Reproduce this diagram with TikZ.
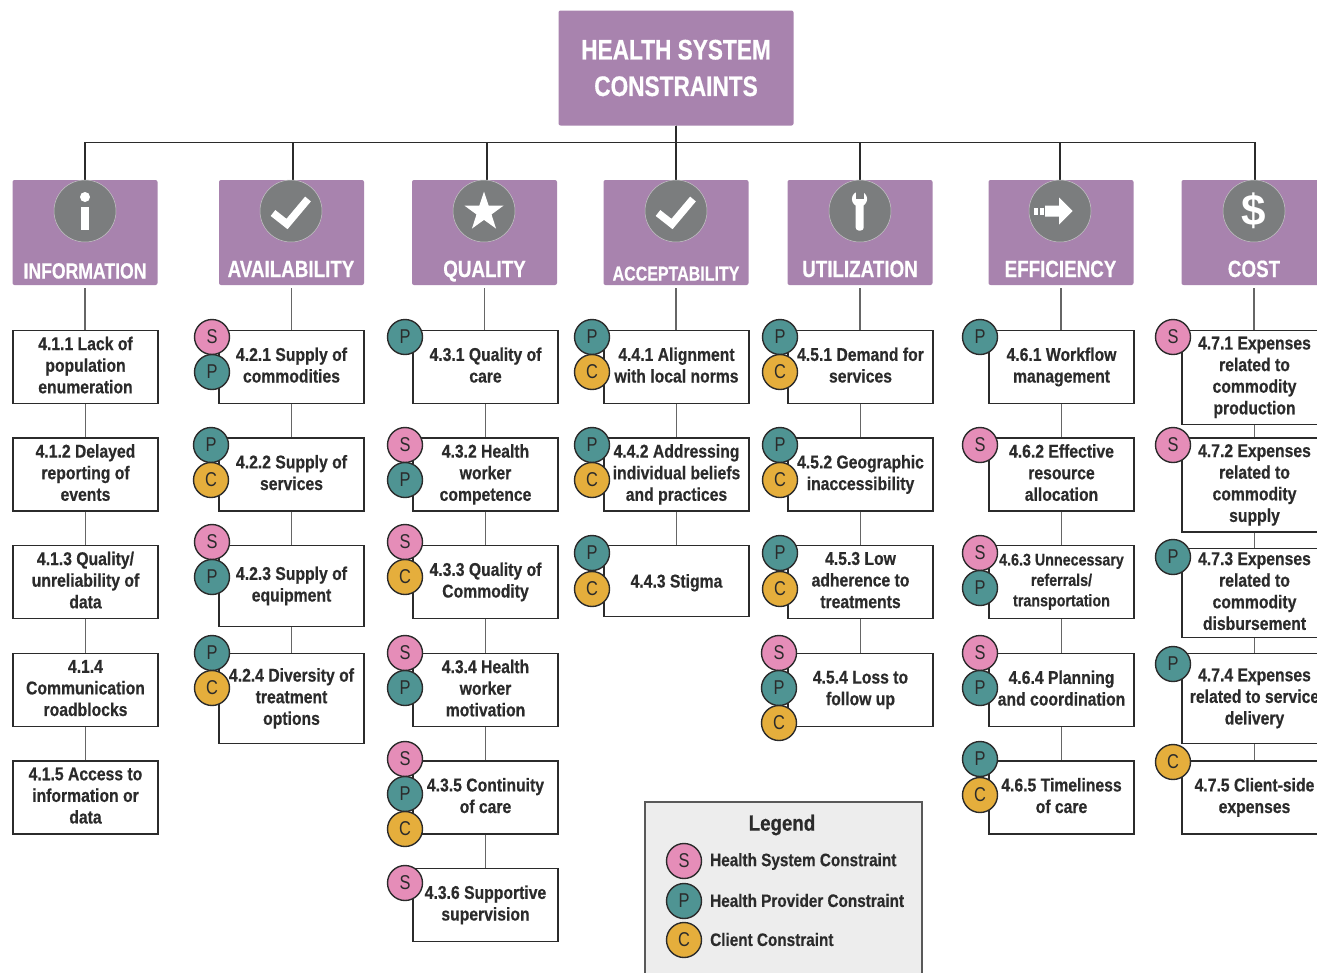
\documentclass[tikz,border=0pt]{standalone}
\usepackage{fontspec}
\usetikzlibrary{shapes.geometric}
\setmainfont{Liberation Sans}
\newfontfamily\headfont[FakeStretch=0.8, BoldFeatures={FakeBold=0.5}]{Liberation Sans}
\newfontfamily\itemfont[FakeStretch=0.85, BoldFeatures={FakeBold=0.5}]{Liberation Sans}
\newfontfamily\tagfont[FakeStretch=0.82]{Liberation Sans}

\definecolor{plum}{HTML}{A883AE}
\definecolor{slate}{HTML}{7B7D7E}
\definecolor{ink}{HTML}{2B2B2B}
\definecolor{tagpink}{HTML}{E58DB8}
\definecolor{tagteal}{HTML}{4F9493}
\definecolor{taggold}{HTML}{E5AE3C}

\newcommand{\itemtopstrut}{\rule{0pt}{17pt}}
\newcommand{\itemendstrut}{\rule[-4pt]{0pt}{4pt}}

\tikzset{
  topbox/.style={fill=plum, rounded corners=2pt, minimum width=235pt, minimum height=115pt,
    text=white, align=center, inner sep=0pt, font=\headfont\bfseries\fontsize{28.3}{36.5}\selectfont},
  headbox/.style={fill=plum, rounded corners=2pt, minimum width=145pt, minimum height=105pt, inner sep=0pt},
  headtext/.style={text=white, inner sep=0pt, text height=17pt, text depth=4pt,
    font=\headfont\bfseries\fontsize{23.5}{26}\selectfont},
  iconball/.style={circle, fill=slate, draw=white!55!slate, line width=0.5pt, minimum size=62pt, inner sep=0pt},
  itembox/.style={draw=ink, line width=1.4pt, fill=white, minimum width=145pt, minimum height=73pt,
    align=center, inner sep=0pt, text=ink, execute at begin node=\itemtopstrut, execute at end node=\itemendstrut,
    font=\itemfont\bfseries\fontsize{18.5}{21.6}\selectfont},
  tagball/.style={circle, draw=ink, line width=1.4pt, minimum size=35pt, inner sep=0pt, text=ink,
    font=\tagfont\fontsize{20}{22}\selectfont},
  tags/.style={tagball, fill=tagpink},
  tagp/.style={tagball, fill=tagteal},
  tagc/.style={tagball, fill=taggold},
  bus/.style={draw=ink, line width=1.4pt},
  link/.style={draw=black!60, line width=1.2pt},
  legendtext/.style={anchor=west, inner sep=0pt, text=ink, font=\itemfont\bfseries\fontsize{18}{21}\selectfont},
}

\begin{document}
\begin{tikzpicture}[x=1pt,y=-1pt]
  \useasboundingbox (0,0) rectangle (1317,972);

  % Title
  \node[topbox] (top) at (676,68) {HEALTH SYSTEM\\CONSTRAINTS};

  % Category headers
  \node[headbox] (hinfo) at (85,232.5) {};
  \node[headbox] (havail) at (291.5,232.5) {};
  \node[headbox] (hqual) at (484.5,232.5) {};
  \node[headbox] (hacc) at (676,232.5) {};
  \node[headbox] (hutil) at (860,232.5) {};
  \node[headbox] (heff) at (1061,232.5) {};
  \node[headbox] (hcost) at (1254,232.5) {};

  \node[headtext, font=\headfont\bfseries\fontsize{22}{26}\selectfont] (tinfo) at (85,272) {INFORMATION};
  \node[headtext] (tavail) at (291,270.5) {AVAILABILITY};
  \node[headtext] (tqual) at (484.5,270.5) {QUALITY};
  \node[headtext, font=\headfont\bfseries\fontsize{20}{26}\selectfont] (tacc) at (676,274) {ACCEPTABILITY};
  \node[headtext] (tutil) at (860,270.5) {UTILIZATION};
  \node[headtext] (teff) at (1060.5,270.5) {EFFICIENCY};
  \node[headtext] (tcost) at (1254,270.5) {COST};

  % Bus from the title down to the headers
  \foreach \h/\s in {hinfo/0, havail/1.5, hqual/2.5, hacc/0, hutil/0, heff/-1, hcost/1}
    \draw[bus] (top.south) -- ++(0,17) -| ([xshift=\s pt]\h.north);

  % Icons
  \node[iconball] (iinfo) at (85,211) {};
  \node[iconball] (iavail) at (291,211) {};
  \node[iconball] (iqual) at (484,211) {};
  \node[iconball] (iacc) at (676,211) {};
  \node[iconball] (iutil) at (860,211) {};
  \node[iconball] (ieff) at (1060,211) {};
  \node[iconball] (icost) at (1254,211) {};

  \fill[white] (iinfo.center) ++(0,-14) circle (5);
  \fill[white] (iinfo.center) ++(-4.3,-4) rectangle ++(8.6,23);
  \draw[white, line width=7.5pt] (iavail.center) ++(-18,2) -- ++(14,11) -- ++(21,-25);
  \node[star, star points=5, star point ratio=2.6, fill=white, inner sep=0pt, minimum size=41pt] (squal) at (484,212) {};
  \draw[white, line width=7.5pt] (iacc.center) ++(-18,2) -- ++(14,11) -- ++(21,-25);
  % wrench
  \fill[white] (iutil.center) ++(-0.5,-12) circle (7.6);
  \fill[slate] (iutil.center) ++(-4.5,-20) rectangle ++(8,8);
  \fill[white, rounded corners=3pt] (iutil.center) ++(-4.3,-10) rectangle ++(8,29.5);
  % arrow
  \fill[white] (ieff.center) ++(-26,-3.5) rectangle ++(4.2,7);
  \fill[white] (ieff.center) ++(-20,-3.5) rectangle ++(3.6,7);
  \fill[white] (ieff.center) ++(-15,-5.5) -- ++(14,0) -- ++(0,-8) -- ++(13.5,13.5)
    -- ++(-13.5,13.5) -- ++(0,-8) -- ++(-14,0) -- cycle;
  \node[text=white, inner sep=0pt, font=\bfseries\fontsize{44}{44}\selectfont] (dollar) at (1254,211) {\$};

  % Information
  \node[itembox] (i411) at (85.5,367) {4.1.1 Lack of\\population\\enumeration};
  \node[itembox] (i412) at (85.5,474.5) {4.1.2 Delayed\\reporting of\\events};
  \node[itembox] (i413) at (85.5,582) {4.1.3 Quality/\\unreliability of\\data};
  \node[itembox] (i414) at (85.5,690) {4.1.4\\Communication\\roadblocks};
  \node[itembox] (i415) at (85.5,797.5) {4.1.5 Access to\\information or\\data};

  % Availability
  \node[itembox] (i421) at (291.5,367) {4.2.1 Supply of\\commodities};
  \node[itembox] (i422) at (291.5,474.5) {4.2.2 Supply of\\services};
  \node[itembox, minimum height=81pt] (i423) at (291.5,586) {4.2.3 Supply of\\equipment};
  \node[itembox, minimum height=90pt] (i424) at (291.5,698.5) {4.2.4 Diversity of\\treatment\\options};

  % Quality
  \node[itembox] (i431) at (485.5,367) {4.3.1 Quality of\\care};
  \node[itembox] (i432) at (485.5,474.5) {4.3.2 Health\\worker\\competence};
  \node[itembox] (i433) at (485.5,582) {4.3.3 Quality of\\Commodity};
  \node[itembox] (i434) at (485.5,690) {4.3.4 Health\\worker\\motivation};
  \node[itembox] (i435) at (485.5,797.5) {4.3.5 Continuity\\of care};
  \node[itembox] (i436) at (485.5,905) {4.3.6 Supportive\\supervision};

  % Acceptability
  \node[itembox] (i441) at (676.5,367) {4.4.1 Alignment\\with local norms};
  \node[itembox] (i442) at (676.5,474.5) {4.4.2 Addressing\\individual beliefs\\and practices};
  \node[itembox, minimum height=71pt] (i443) at (676.5,581) {4.4.3 Stigma};

  % Utilization
  \node[itembox] (i451) at (860.5,367) {4.5.1 Demand for\\services};
  \node[itembox] (i452) at (860.5,474.5) {4.5.2 Geographic\\inaccessibility};
  \node[itembox] (i453) at (860.5,582) {4.5.3 Low\\adherence to\\treatments};
  \node[itembox] (i454) at (860.5,690) {4.5.4 Loss to\\follow up};

  % Efficiency
  \node[itembox] (i461) at (1061.5,367) {4.6.1 Workflow\\management};
  \node[itembox] (i462) at (1061.5,474.5) {4.6.2 Effective\\resource\\allocation};
  \node[itembox, font=\itemfont\bfseries\fontsize{16.8}{20.4}\selectfont] (i463) at (1061.5,582) {4.6.3 Unnecessary\\referrals/\\transportation};
  \node[itembox] (i464) at (1061.5,690) {4.6.4 Planning\\and coordination};
  \node[itembox] (i465) at (1061.5,797.5) {4.6.5 Timeliness\\of care};

  % Cost
  \node[itembox, minimum height=94pt] (i471) at (1254.5,377.5) {4.7.1 Expenses\\related to\\commodity\\production};
  \node[itembox, minimum height=94pt] (i472) at (1254.5,485) {4.7.2 Expenses\\related to\\commodity\\supply};
  \node[itembox, minimum height=89pt] (i473) at (1254.5,593) {4.7.3 Expenses\\related to\\commodity\\disbursement};
  \node[itembox, minimum height=90pt] (i474) at (1254.5,698.5) {4.7.4 Expenses\\related to service\\delivery};
  \node[itembox] (i475) at (1254.5,797.5) {4.7.5 Client-side\\expenses};

  % Links from the headers and along each column
  \foreach \a/\b in {hinfo/i411, havail/i421, hqual/i431, hacc/i441, hutil/i451, heff/i461, hcost/i471}
    \draw[link, shorten <=3pt] (\a.south) -- (\a.south |- \b.north);
  \foreach \a/\b in {i411/i412, i412/i413, i413/i414, i414/i415,
                     i421/i422, i422/i423, i423/i424,
                     i431/i432, i432/i433, i433/i434, i434/i435, i435/i436,
                     i441/i442, i442/i443,
                     i451/i452, i452/i453, i453/i454,
                     i461/i462, i462/i463, i463/i464, i464/i465,
                     i471/i472, i472/i473, i473/i474, i474/i475}
    \draw[link] (\a.south) -- (\b.north);

  % Constraint tags
  \foreach \n/\x/\y in {421/212/337, 423/212/542, 432/405/445, 433/405/542, 434/405/653, 435/405/759,
                        436/405/883, 454/779/653, 462/980/445, 463/980/553, 464/980/653,
                        471/1173/337, 472/1173/445}
    \node[tags] (s\n) at (\x,\y) {S};
  \foreach \n/\x/\y in {421/212/372, 422/211/445, 423/212/577, 424/212/653, 431/405/337, 432/405/480,
                        434/405/688, 435/405/794, 441/592/337, 442/592/445, 443/592/553,
                        451/780/337, 452/780/445, 453/780/553, 454/779/688,
                        461/980/337, 463/980/588, 464/980/688, 465/980/759, 473/1173/557, 474/1173/664}
    \node[tagp] (p\n) at (\x,\y) {P};
  \foreach \n/\x/\y in {422/211/480, 424/212/688, 433/405/577, 435/405/829, 441/592/372, 442/592/480,
                        443/592/589, 451/780/372, 452/780/480, 453/780/589, 454/779/723,
                        465/980/795, 475/1173/762}
    \node[tagc] (c\n) at (\x,\y) {C};

  % Legend
  \node[draw=black!65, line width=1.2pt, fill=black!7, minimum width=277pt, minimum height=200pt, inner sep=0pt] (legend) at (783.5,902) {};
  \node[text=ink, inner sep=0pt, font=\itemfont\bfseries\fontsize{22}{24}\selectfont] (legendtitle) at (782,825) {Legend};
  \node[tags] (ls) at (684,861) {S};
  \node[tagp] (lp) at (684,901) {P};
  \node[tagc] (lc) at (684,940) {C};
  \node[legendtext] (lstext) at (710,861.5) {Health System Constraint};
  \node[legendtext] (lptext) at (710,900.5) {Health Provider Constraint};
  \node[legendtext] (lctext) at (710,939.5) {Client Constraint};
\end{tikzpicture}
\end{document}
